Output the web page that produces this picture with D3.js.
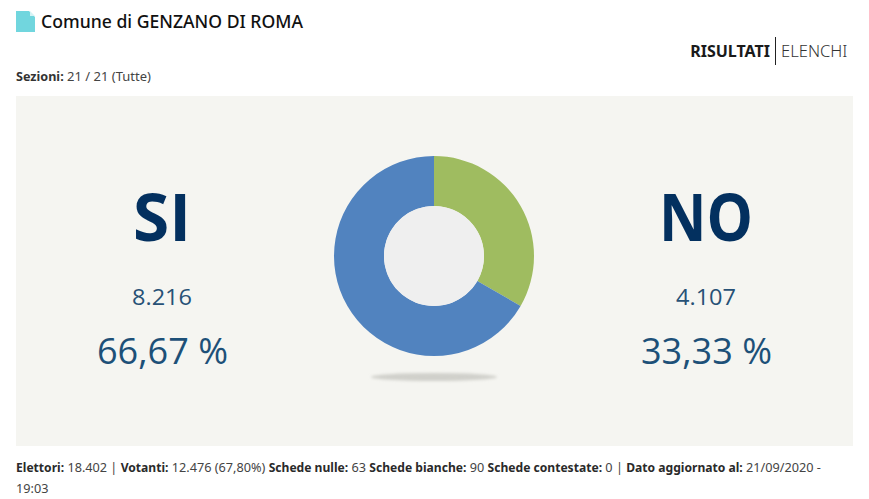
<!DOCTYPE html>
<html>
<head>
<meta charset="utf-8">
<script src="https://cdn.jsdelivr.net/npm/d3@7"></script>
<style>
  html, body { margin: 0; padding: 0; background: #fff; }
  text { font-family: "Noto Sans", sans-serif; }
  .big { font-family: "Open Sans", sans-serif; }
</style>
</head>
<body>
<svg id="chart" width="869" height="499"></svg>
<script>
const labels = ['SI', 'NO'];
const votes = [8216, 4107];
const voteLabels = ['8.216', '4.107'];
const percentLabels = ['66,67 %', '33,33 %'];
const sliceColors = ['#5183bf', '#9fbc60'];
// [bold label, plain value] runs of the footer, one list per line
const footerLine1 = [
  ['Elettori:', ' 18.402 | '], ['Votanti:', ' 12.476 (67,80%) '], ['Schede nulle:', ' 63 '],
  ['Schede bianche:', ' 90 '], ['Schede contestate:', ' 0 | '], ['Dato aggiornato al:', ' 21/09/2020 -']
];
const footerLine2 = '19:03';

const svg = d3.select('#chart');
const cx = 434, cy = 256;

// header
svg.append('path')
  .attr('d', 'M16 11H29L35 17V32H16Z')
  .attr('fill', '#71d6de');
svg.append('path')
  .attr('d', 'M30 11L35 16H30Z')
  .attr('fill', '#d5f3f5');
svg.append('text').attr('x', 41).attr('y', 28)
  .attr('font-size', 18.5).attr('font-weight', 500).attr('fill', '#111')
  .attr('textLength', 262).attr('lengthAdjust', 'spacingAndGlyphs')
  .text('Comune di GENZANO DI ROMA');

svg.append('text').attr('x', 770).attr('y', 57).attr('text-anchor', 'end')
  .attr('font-size', 16).attr('font-weight', 700).attr('fill', '#1a1a1a')
  .text('RISULTATI');
svg.append('line').attr('x1', 775.5).attr('x2', 775.5).attr('y1', 37).attr('y2', 65)
  .attr('stroke', '#222');
svg.append('text').attr('x', 781).attr('y', 57)
  .attr('font-size', 16.6).attr('font-weight', 300).attr('fill', '#333')
  .text('ELENCHI');

const sez = svg.append('text').attr('x', 16).attr('y', 81).attr('font-size', 13).attr('fill', '#444');
sez.append('tspan').attr('font-size', 12.6).attr('font-weight', 700).attr('fill', '#333').text('Sezioni:');
sez.append('tspan').text(' 21 / 21 (Tutte)');

// panel
svg.append('rect').attr('x', 16).attr('y', 96).attr('width', 837).attr('height', 350)
  .attr('fill', '#f5f5f1');

// shadow under the donut
const blur = svg.append('defs').append('filter').attr('id', 'soft')
  .attr('x', '-20%').attr('y', '-100%').attr('width', '140%').attr('height', '300%');
blur.append('feGaussianBlur').attr('stdDeviation', 1.5);
svg.append('ellipse').attr('cx', cx).attr('cy', 377).attr('rx', 63).attr('ry', 4)
  .attr('fill', '#d0d0cb').attr('filter', 'url(#soft)');

// donut, NO slice first so it starts at 12 o'clock going clockwise
const order = [1, 0];
const pie = d3.pie().sort(null).value(i => votes[i]);
const arc = d3.arc().innerRadius(50).outerRadius(100);
const g = svg.append('g').attr('transform', `translate(${cx},${cy})`);
g.selectAll('path')
  .data(pie(order))
  .join('path')
  .attr('d', arc)
  .attr('fill', d => sliceColors[d.data]);
g.append('circle').attr('r', 50).attr('fill', '#efefef');

// side labels
const sideX = d3.scaleOrdinal().domain(labels).range([162, 706]);
const side = svg.selectAll('g.side')
  .data(labels)
  .join('g')
  .attr('class', 'side')
  .attr('text-anchor', 'middle');
side.append('text').attr('class', 'big')
  .attr('x', d => sideX(d)).attr('y', 241)
  .attr('font-size', 67).attr('font-weight', 700).attr('fill', '#03305f')
  .attr('textLength', (d, i) => [58, 94][i]).attr('lengthAdjust', 'spacingAndGlyphs')
  .text(d => d);
side.append('text').attr('class', 'big')
  .attr('x', d => sideX(d)).attr('y', 305)
  .attr('font-size', 22).attr('fill', '#275176')
  .attr('textLength', 60).attr('lengthAdjust', 'spacingAndGlyphs')
  .text((d, i) => voteLabels[i]);
side.append('text').attr('class', 'big')
  .attr('x', d => sideX(d) + 0.5).attr('y', 364)
  .attr('font-size', 36).attr('fill', '#1d5078')
  .attr('textLength', 131).attr('lengthAdjust', 'spacingAndGlyphs')
  .text((d, i) => percentLabels[i]);

// footer
const foot = svg.append('text').attr('x', 16).attr('y', 472)
  .attr('font-size', 12.7).attr('fill', '#444').attr('xml:space', 'preserve');
footerLine1.forEach(run => {
  foot.append('tspan').attr('font-size', 12.1).attr('font-weight', 700).attr('fill', '#2a2a2a').text(run[0]);
  foot.append('tspan').text(run[1]);
});
svg.append('text').attr('x', 16).attr('y', 493)
  .attr('font-size', 12.7).attr('fill', '#444').text(footerLine2);
</script>
</body>
</html>
